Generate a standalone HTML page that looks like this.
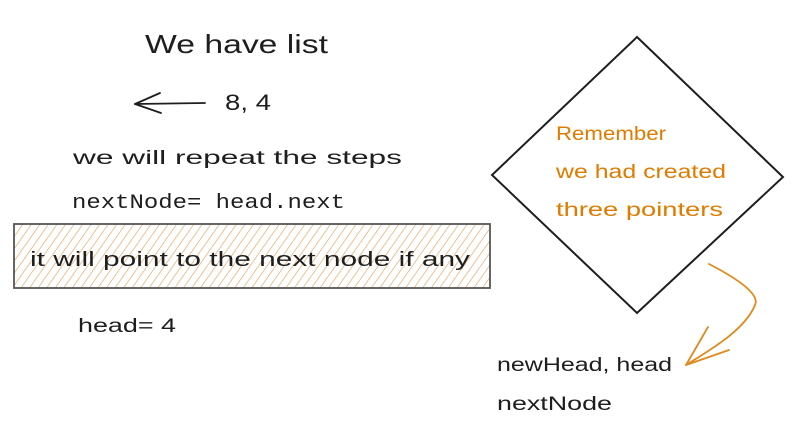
<!DOCTYPE html>
<html><head><style>
html,body{margin:0;padding:0;background:#fff;width:800px;height:434px;overflow:hidden}
</style></head><body>
<svg width="800" height="434" viewBox="0 0 800 434" xmlns="http://www.w3.org/2000/svg">
<defs>
<pattern id="h" patternUnits="userSpaceOnUse" width="7" height="8" patternTransform="rotate(35)">
<line x1="0" y1="0" x2="0" y2="8" stroke="#e8a060" stroke-width="1.3"/>
</pattern>
</defs>
<rect x="0" y="0" width="800" height="434" fill="#fff"/>
<text x="145" y="53" font-family="Liberation Sans, sans-serif" font-size="26" fill="#1e1e1e" textLength="183" lengthAdjust="spacingAndGlyphs">We have list</text>
<g stroke="#1e1e1e" stroke-width="1.8" fill="none" stroke-linecap="round">
<path d="M205 103 L135 104"/>
<path d="M135 104 L160 93"/>
<path d="M135 104 L161 113"/>
</g>
<text x="225" y="110" font-family="Liberation Sans, sans-serif" font-size="22" fill="#1e1e1e" textLength="46" lengthAdjust="spacingAndGlyphs">8, 4</text>
<text x="73" y="164" font-family="Liberation Sans, sans-serif" font-size="19" fill="#1e1e1e" textLength="329" lengthAdjust="spacingAndGlyphs">we will repeat the steps</text>
<text x="72" y="208" font-family="Liberation Mono, monospace" font-size="20" fill="#1e1e1e" textLength="273" lengthAdjust="spacingAndGlyphs">nextNode= head.next</text>
<rect x="14" y="224" width="476" height="64" fill="url(#h)" stroke="#555" stroke-width="1.8"/>
<text x="30" y="266" font-family="Liberation Sans, sans-serif" font-size="20" fill="#1e1e1e" textLength="440" lengthAdjust="spacingAndGlyphs">it will point to the next node if any</text>
<text x="78" y="332" font-family="Liberation Sans, sans-serif" font-size="19" fill="#1e1e1e" textLength="98" lengthAdjust="spacingAndGlyphs">head= 4</text>
<polygon points="637,37 783,177 637,313 492,175" fill="none" stroke="#1e1e1e" stroke-width="2"/>
<text x="556" y="140" font-family="Liberation Sans, sans-serif" font-size="19" fill="#e07b00" textLength="110" lengthAdjust="spacingAndGlyphs">Remember</text>
<text x="556" y="178" font-family="Liberation Sans, sans-serif" font-size="19" fill="#e07b00" textLength="170" lengthAdjust="spacingAndGlyphs">we had created</text>
<text x="556" y="216" font-family="Liberation Sans, sans-serif" font-size="19" fill="#e07b00" textLength="167" lengthAdjust="spacingAndGlyphs">three pointers</text>
<g stroke="#e08a1e" stroke-width="1.8" fill="none" stroke-linecap="round">
<path d="M709 264 C740 280 760 295 755 305 C745 330 710 350 686 365"/>
<path d="M708 327 L686 365"/>
<path d="M729 350 L686 365"/>
</g>
<text x="497" y="371" font-family="Liberation Sans, sans-serif" font-size="19" fill="#1e1e1e" textLength="175" lengthAdjust="spacingAndGlyphs">newHead, head</text>
<text x="497" y="410" font-family="Liberation Sans, sans-serif" font-size="19" fill="#1e1e1e" textLength="115" lengthAdjust="spacingAndGlyphs">nextNode</text>
</svg>
</body></html>
